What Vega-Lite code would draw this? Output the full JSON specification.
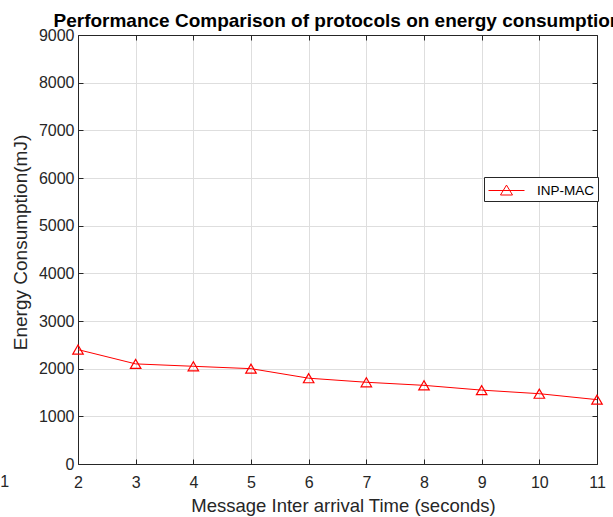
{
  "$schema": "https://vega.github.io/schema/vega-lite/v6.json",
  "width": 519,
  "height": 429,
  "autosize": {"type": "none"},
  "padding": {"left": 78, "top": 35, "right": 16, "bottom": 53},
  "background": "white",
  "title": {
    "text": "Performance Comparison of protocols on energy consumption",
    "font": "Liberation Sans",
    "fontSize": 19,
    "fontWeight": "bold",
    "color": "black",
    "anchor": "middle",
    "offset": -4
  },
  "config": {
    "view": {"stroke": null},
    "axis": {
      "labelFont": "Liberation Sans",
      "titleFont": "Liberation Sans",
      "labelFontSize": 16,
      "titleFontSize": 18.5,
      "titleFontWeight": "normal",
      "labelColor": "#262626",
      "titleColor": "#262626",
      "domainColor": "#262626",
      "tickColor": "#262626",
      "gridColor": "#dedede",
      "domainWidth": 1,
      "tickWidth": 1,
      "labelFlush": false
    }
  },
  "datasets": {
    "main": [
      {"time": 2, "energy": 2400, "series": "INP-MAC"},
      {"time": 3, "energy": 2100, "series": "INP-MAC"},
      {"time": 4, "energy": 2050, "series": "INP-MAC"},
      {"time": 5, "energy": 2000, "series": "INP-MAC"},
      {"time": 6, "energy": 1800, "series": "INP-MAC"},
      {"time": 7, "energy": 1715, "series": "INP-MAC"},
      {"time": 8, "energy": 1650, "series": "INP-MAC"},
      {"time": 9, "energy": 1550, "series": "INP-MAC"},
      {"time": 10, "energy": 1475, "series": "INP-MAC"},
      {"time": 11, "energy": 1350, "series": "INP-MAC"}
    ],
    "stray": [{"time": 0.73, "energy": -378, "label": "1"}]
  },
  "layer": [
    {
      "data": {"name": "main"},
      "mark": {"type": "line", "strokeWidth": 1},
      "encoding": {
        "x": {
          "field": "time", "type": "quantitative",
          "scale": {"domain": [2, 11], "nice": false, "zero": false},
          "axis": {
            "orient": "bottom",
            "values": [2, 3, 4, 5, 6, 7, 8, 9, 10, 11],
            "format": "d",
            "grid": true,
            "tickSize": -5,
            "labelPadding": 15,
            "title": "Message Inter arrival Time (seconds)",
            "titlePadding": 6,
            "titleX": 265
          }
        },
        "y": {
          "field": "energy", "type": "quantitative",
          "scale": {"domain": [0, 9000], "nice": false},
          "axis": {
            "orient": "left",
            "values": [0, 1000, 2000, 3000, 4000, 5000, 6000, 7000, 8000, 9000],
            "format": "d",
            "grid": true,
            "tickSize": -5,
            "labelPadding": 9,
            "title": "Energy Consumption(mJ)",
            "titleFontSize": 19,
            "titlePadding": 8,
            "titleY": 207
          }
        },
        "color": {
          "field": "series", "type": "nominal",
          "scale": {"range": ["red"]},
          "legend": {
            "title": null,
            "orient": "none",
            "legendX": 406,
            "legendY": 142,
            "strokeColor": "#262626",
            "fillColor": "white",
            "padding": 4,
            "symbolType": "M-2,0H2M0,-0.6L0.667,0.5H-0.667Z",
            "symbolSize": 324,
            "symbolStrokeWidth": 1,
            "symbolFillColor": "transparent",
            "symbolStrokeColor": "red",
            "symbolOffset": 9,
            "labelOffset": 21,
            "labelFont": "Liberation Sans",
            "labelFontSize": 13.5,
            "labelColor": "black"
          }
        }
      }
    },
    {
      "data": {"name": "main"},
      "mark": {"type": "point", "shape": "triangle-up", "filled": false, "color": "red", "size": 110, "strokeWidth": 1.2, "opacity": 1},
      "encoding": {
        "x": {"field": "time", "type": "quantitative", "axis": null},
        "y": {"field": "energy", "type": "quantitative", "axis": null}
      }
    },
    {
      "data": {"name": "main"},
      "mark": {"type": "point", "opacity": 0},
      "encoding": {
        "x": {
          "field": "time", "type": "quantitative",
          "axis": {"orient": "top", "values": [2, 3, 4, 5, 6, 7, 8, 9, 10, 11], "labels": false, "grid": false, "tickSize": -5, "title": null}
        },
        "y": {
          "field": "energy", "type": "quantitative",
          "axis": {"orient": "right", "values": [0, 1000, 2000, 3000, 4000, 5000, 6000, 7000, 8000, 9000], "labels": false, "grid": false, "tickSize": -5, "title": null}
        }
      }
    },
    {
      "data": {"name": "stray"},
      "mark": {"type": "text", "font": "Liberation Sans", "fontSize": 16, "color": "#262626", "baseline": "middle", "align": "center"},
      "encoding": {
        "x": {"field": "time", "type": "quantitative", "axis": null},
        "y": {"field": "energy", "type": "quantitative", "axis": null},
        "text": {"field": "label"}
      }
    }
  ],
  "resolve": {"axis": {"x": "independent", "y": "independent"}}
}
